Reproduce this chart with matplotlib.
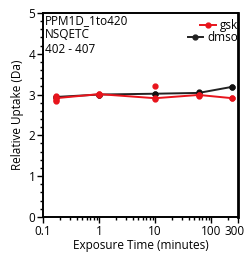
import matplotlib.pyplot as plt
from matplotlib.ticker import FixedLocator, NullFormatter
from matplotlib.transforms import ScaledTranslation

# exposure times (minutes)
times = [0.167, 1, 10, 60, 240]

# mean uptake lines
gsk_mean = [2.91, 3.01, 2.91, 2.99, 2.91]
dmso_mean = [2.94, 3.00, 3.02, 3.04, 3.19]

# replicate points
gsk_rep_t = [0.167, 0.167, 0.167, 1, 1, 10, 10, 60, 60, 240]
gsk_rep_y = [2.97, 2.87, 2.84, 3.01, 3.0, 3.2, 2.9, 3.0, 2.97, 2.91]
dmso_rep_t = [0.167, 1, 10, 60, 240]
dmso_rep_y = [2.95, 3.0, 3.02, 3.05, 3.19]

x_ticks = [0.1, 1, 10, 100, 300]
x_labels = ["0.1", "1", "10", "100", "300"]

plt.rcParams['font.family'] = ['Open Sans', 'DejaVu Sans']

fig = plt.figure(figsize=(2.46, 2.54), dpi=100)
ax = fig.add_axes([0.175, 0.146, 0.792, 0.803])

dmso_line, = ax.plot(times, dmso_mean, color="#222222", lw=1.4, marker="o", ms=3.5,
                     label="dmso", zorder=3)
gsk_line, = ax.plot(times, gsk_mean, color="#e8141c", lw=1.4, marker="o", ms=3.5,
                    label="gsk", zorder=4)
ax.plot(dmso_rep_t, dmso_rep_y, ls="none", marker="o", ms=3.5, color="#111111", zorder=3)
ax.plot(gsk_rep_t, gsk_rep_y, ls="none", marker="o", ms=3.5, color="#e8141c", zorder=4)

ax.set_xscale("log")
ax.set_xlim(0.1, 300)
ax.set_ylim(0, 5)
ax.set_xticks(x_ticks)
ax.set_xticklabels(x_labels)
minors = [m * 10 ** e for e in (-1, 0, 1) for m in range(2, 10)] + [200]
ax.xaxis.set_minor_locator(FixedLocator(minors))
ax.xaxis.set_minor_formatter(NullFormatter())
ax.set_yticks(range(6))
ax.yaxis.set_minor_locator(FixedLocator([i * 0.2 for i in range(26)]))

ax.tick_params(axis="both", which="major", length=4, width=1, labelsize=8.5,
               color="black", pad=1.5)
ax.tick_params(axis="both", which="minor", length=2, width=1, color="black")

# nudge the last tick label so it stays inside the figure
lbl = ax.get_xticklabels()[-1]
lbl.set_transform(lbl.get_transform() + ScaledTranslation(-0.035, 0, fig.dpi_scale_trans))

for s in ax.spines.values():
    s.set_linewidth(1.4)
ax.spines["right"].set_linewidth(2)

ax.set_xlabel("Exposure Time (minutes)", fontsize=8.5, labelpad=1)
ax.set_ylabel("Relative Uptake (Da)", fontsize=8.5, labelpad=3)

ax.text(0.01, 0.995, "PPM1D_1to420\nNSQETC\n402 - 407", transform=ax.transAxes,
        ha="left", va="top", fontsize=8.5, linespacing=1.15)

# two one-entry legends so each row is right aligned
leg_kw = dict(frameon=False, fontsize=8.5, handlelength=1.3, handletextpad=0.35,
              borderaxespad=0, borderpad=0.0, loc="center right")
leg1 = ax.legend([gsk_line], ["gsk"], bbox_to_anchor=(1.0, 0.94), **leg_kw)
ax.add_artist(leg1)
ax.legend([dmso_line], ["dmso"], bbox_to_anchor=(1.0, 0.88), **leg_kw)

fig.savefig("out.png", dpi=100)
